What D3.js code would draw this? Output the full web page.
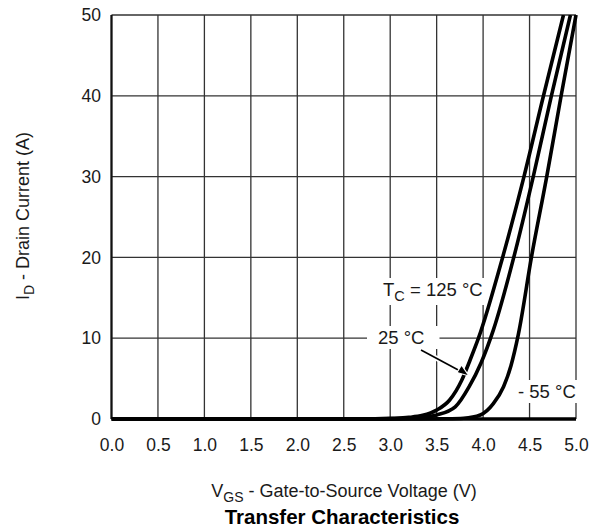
<!DOCTYPE html>
<html><head><meta charset="utf-8">
<script src="https://cdn.jsdelivr.net/npm/d3@7"></script>
<style>body{margin:0;background:#fff}svg{display:block;font-family:"Liberation Sans",Arial,sans-serif}</style>
</head><body>
<svg id="c" width="597" height="527"></svg>
<script>
// Data (VGS in V, ID in A)
const vgs125 = [0, 2.7, 3.0, 3.2, 3.35, 3.50, 3.64, 3.77, 3.86, 3.95, 4.21, 4.44, 4.65, 4.865];
const id125  = [0, 0,   0.08,0.2, 0.45, 1.1,  2.35, 4.8,  7.3,  10,   20,   30,   40,   50];
const vgs25  = [0, 2.8, 3.1, 3.30, 3.50, 3.70, 3.85, 3.98, 4.11, 4.33, 4.54, 4.735, 4.94];
const id25   = [0, 0,   0.05,0.15, 0.5,  1.5,  4.0,  7.0,  11,   20,   30,   40,    50];
const vgsM55 = [0, 3.3, 3.6, 3.79, 3.97, 4.11, 4.22, 4.30, 4.38, 4.52, 4.685, 4.84, 5.0];
const idM55  = [0, 0,   0.03,0.1,  0.5,  1.9,  4.0,  6.6,  10.5, 20,   30,    40,   50];
const xTicks = [0, 0.5, 1.0, 1.5, 2.0, 2.5, 3.0, 3.5, 4.0, 4.5, 5.0];
const yTicks = [0, 10, 20, 30, 40, 50];

const svg = d3.select("#c");
const L = 111.5, R = 576, T = 15, B = 419;
const x = d3.scaleLinear().domain([0, 5]).range([L, R]);
const y = d3.scaleLinear().domain([0, 50]).range([B, T]);
const FONT = "Liberation Sans, Arial, sans-serif";

// grid
const g = svg.append("g");
g.selectAll(".vx").data(xTicks).join("line")
  .attr("x1", d => x(d)).attr("x2", d => x(d)).attr("y1", T).attr("y2", B)
  .attr("stroke", "#333").attr("stroke-width", 1.3);
g.selectAll(".hy").data(yTicks).join("line")
  .attr("x1", L).attr("x2", R).attr("y1", d => y(d)).attr("y2", d => y(d))
  .attr("stroke", "#333").attr("stroke-width", 1.3);
// frame
svg.append("line").attr("x1", L).attr("x2", L).attr("y1", T).attr("y2", B).attr("stroke", "#111").attr("stroke-width", 2.2);
svg.append("line").attr("x1", L).attr("x2", R).attr("y1", B).attr("y2", B).attr("stroke", "#000").attr("stroke-width", 3.5);

// axis tick labels via d3 axes
const ax = svg.append("g").attr("transform", `translate(0,${B})`)
  .call(d3.axisBottom(x).tickValues(xTicks).tickFormat(d3.format(".1f")).tickSize(0).tickPadding(20));
ax.select(".domain").remove();
ax.selectAll("text").attr("font-size", 17.5).attr("fill", "#1a1a1a").attr("font-family", FONT);
const ay = svg.append("g").attr("transform", `translate(${L},0)`)
  .call(d3.axisLeft(y).tickValues(yTicks).tickSize(0).tickPadding(10.5));
ay.select(".domain").remove();
ay.selectAll("text").attr("font-size", 17.5).attr("fill", "#1a1a1a").attr("font-family", FONT);

// curves
const line = d3.line().x(d => x(d[0])).y(d => y(d[1])).curve(d3.curveMonotoneX);
const series = [
  d3.zip(vgs125, id125),
  d3.zip(vgs25, id25),
  d3.zip(vgsM55, idM55)
];
svg.append("clipPath").attr("id", "clp").append("rect")
  .attr("x", L).attr("y", T).attr("width", R - L + 2).attr("height", B - T + 3);
svg.append("g").attr("clip-path", "url(#clp)").selectAll("path").data(series).join("path")
  .attr("d", line).attr("fill", "none").attr("stroke", "#000").attr("stroke-width", 3.6)
  .attr("stroke-linejoin", "round");

// annotations
function label(parts, tx, ty, padL, padR) {
  const t = svg.append("text").attr("x", tx).attr("y", ty).attr("font-size", 18.5).attr("fill", "#1a1a1a");
  parts.forEach(p => {
    const ts = t.append("tspan").text(p.t);
    if (p.sub) ts.attr("font-size", 14.5).attr("dy", 5);
    if (p.back) ts.attr("dy", -5);
  });
  const bb = t.node().getBBox();
  svg.insert("rect", () => t.node()).attr("x", bb.x - padL).attr("y", bb.y - 1)
    .attr("width", bb.width + padL + padR).attr("height", bb.height + 2).attr("fill", "#fff");
}
label([{t: "T"}, {t: "C", sub: true}, {t: " = 125 °C", back: true}], 383, 296, 2, 2);
label([{t: "25 °C"}], 378, 344, 11, 15);
label([{t: "- 55 °C"}], 518, 398, 2, 2);

// arrow
svg.append("line").attr("x1", 421).attr("y1", 350).attr("x2", 462).attr("y2", 372)
  .attr("stroke", "#fff").attr("stroke-width", 5);
svg.append("line").attr("x1", 421).attr("y1", 350).attr("x2", 462).attr("y2", 372)
  .attr("stroke", "#000").attr("stroke-width", 1.6);
svg.append("path").attr("d", "M469,376 L457,372.5 L461.5,365 Z").attr("fill", "#000")
  .attr("stroke", "#fff").attr("stroke-width", 1.2);

// axis titles
const xt = svg.append("text").attr("x", 344).attr("y", 496.5).attr("text-anchor", "middle")
  .attr("font-size", 18).attr("fill", "#1a1a1a");
xt.append("tspan").text("V");
xt.append("tspan").text("GS").attr("font-size", 14).attr("dy", 5);
xt.append("tspan").text(" - Gate-to-Source Voltage (V)").attr("dy", -5);

const yt = svg.append("text").attr("transform", "translate(28.5,216) rotate(-90)").attr("text-anchor", "middle")
  .attr("font-size", 18).attr("fill", "#1a1a1a");
yt.append("tspan").text("I");
yt.append("tspan").text("D").attr("font-size", 14).attr("dy", 5);
yt.append("tspan").text(" - Drain Current (A)").attr("dy", -5);

svg.append("text").attr("x", 342).attr("y", 523.5).attr("text-anchor", "middle")
  .attr("font-size", 20.5).attr("font-weight", "bold").attr("fill", "#000").text("Transfer Characteristics");
</script>
</body></html>
